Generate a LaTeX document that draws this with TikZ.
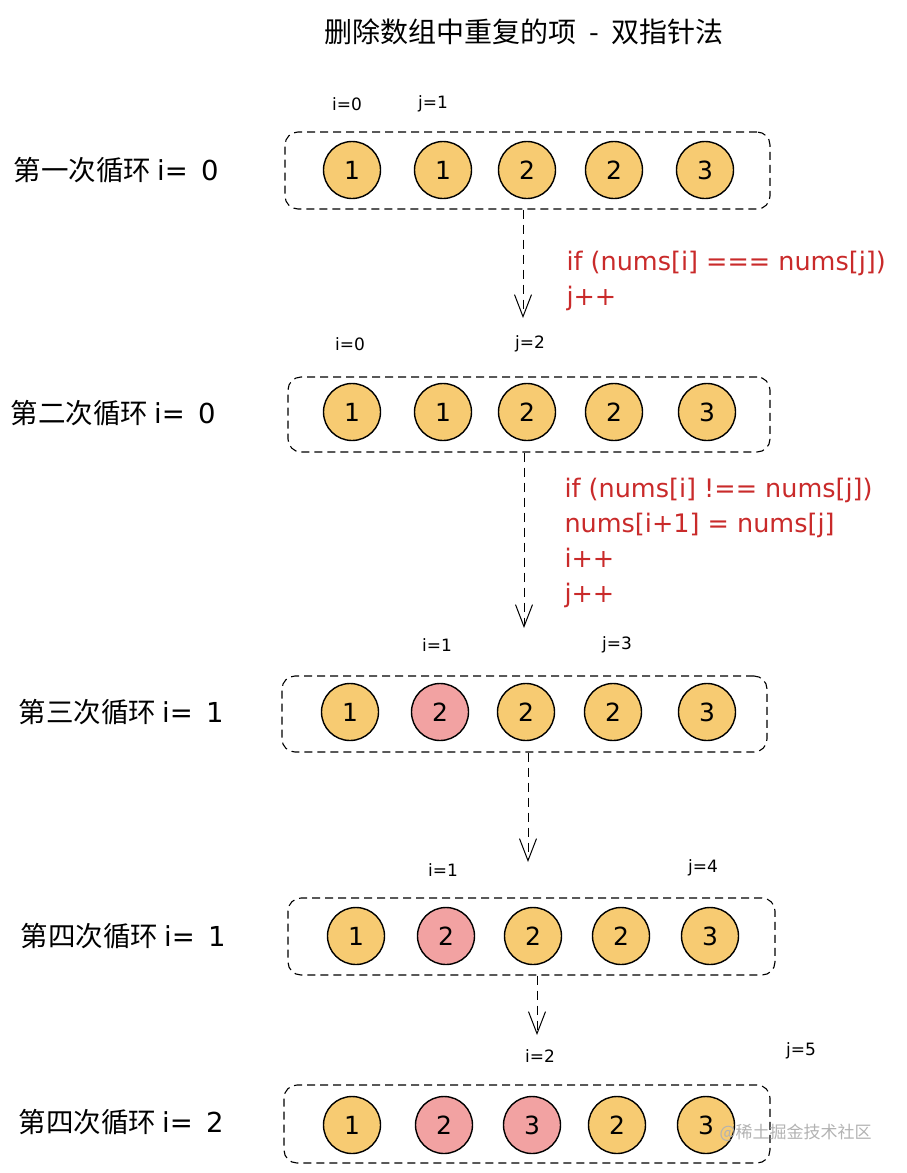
\documentclass[tikz,border=0pt]{standalone}
\usepackage{fontspec}
\setmainfont{Noto Sans CJK SC}
\newfontfamily\hand{DejaVu Sans}
\usetikzlibrary{arrows.meta}

\definecolor{cellyellow}{HTML}{F7CB72}
\definecolor{cellred}{HTML}{F2A2A2}
\definecolor{codered}{HTML}{C92A2A}

\tikzset{
  rowbox/.style={draw, dashed, dash pattern=on 8pt off 5pt, line width=1.1pt,
    rounded corners=13pt, minimum width=485pt, minimum height=77pt},
  cell/.style={circle, draw, line width=1.4pt, fill=cellyellow,
    minimum size=57pt, inner sep=0pt, font=\hand\fontsize{25}{25}\selectfont},
  hot/.style={cell, fill=cellred},
  roundlabel/.style={anchor=west, font=\fontsize{27.5}{27.5}\selectfont},
  ptr/.style={font=\hand\fontsize{17}{17}\selectfont},
  code/.style={anchor=north west, align=left, text=codered,
    font=\hand\fontsize{25.5}{35}\selectfont},
  flow/.style={dashed, dash pattern=on 9pt off 6pt, line width=1pt,
    -{Straight Barb[length=22pt,width=17pt,line width=1pt]}}
}

\begin{document}
\begin{tikzpicture}[x=1pt,y=-1pt]
  \useasboundingbox (0,0) rectangle (906,1173);

  \node[font=\fontsize{28}{28}\selectfont] (title) at (524,32) {删除数组中重复的项\ \ -\ \ 双指针法};

  % round 1
  \node[rowbox] (box1) at (527.5,170.5) {};
  \node[roundlabel] (lab1) at (10,170) {第一次循环 {\hand i=\, 0}};
  \draw
    (352,170) node[cell] (r1a){1}
    (443,170) node[cell] (r1b){1}
    (527,170) node[cell] (r1c){2}
    (614,170) node[cell] (r1d){2}
    (705,170) node[cell] (r1e){3};
  \node[ptr] (i1) at (347,104) {i=0};
  \node[ptr] (j1) at (433,104) {j=1};

  \coordinate (a1) at (523,318);
  \draw[flow] (box1.south -| a1) -- (a1);
  \node[code] (code1) at (563,248) {if (nums[i] === nums[j])\\j++};

  % round 2
  \node[rowbox, minimum width=482pt, minimum height=75pt] (box2) at (529,414.5) {};
  \node[roundlabel] (lab2) at (7,413) {第二次循环 {\hand i=\, 0}};
  \draw
    (352,412) node[cell] (r2a){1}
    (443,412) node[cell] (r2b){1}
    (527,412) node[cell] (r2c){2}
    (614,412) node[cell] (r2d){2}
    (707,412) node[cell] (r2e){3};
  \node[ptr] (i2) at (350,344) {i=0};
  \node[ptr] (j2) at (530,344) {j=2};

  \coordinate (a2) at (524,628);
  \draw[flow] (box2.south -| a2) -- (a2);
  \node[code] (code2) at (561,475) {if (nums[i] !== nums[j])\\nums[i+1] = nums[j]\\i++\\j++};

  % round 3
  \node[rowbox, minimum height=76pt] (box3) at (524.5,714) {};
  \node[roundlabel] (lab3) at (15,712) {第三次循环 {\hand i=\, 1}};
  \draw
    (350,712) node[cell] (r3a){1}
    (440,712) node[hot] (r3b){2}
    (526,712) node[cell] (r3c){2}
    (613,712) node[cell] (r3d){2}
    (707,712) node[cell] (r3e){3};
  \node[ptr] (i3) at (437,645) {i=1};
  \node[ptr] (j3) at (617,645) {j=3};

  \coordinate (a3) at (528,862);
  \draw[flow] (box3.south -| a3) -- (a3);

  % round 4
  \node[rowbox, minimum width=487pt] (box4) at (531.5,936.5) {};
  \node[roundlabel] (lab4) at (17,936) {第四次循环 {\hand i=\, 1}};
  \draw
    (356,936) node[cell] (r4a){1}
    (446,936) node[hot] (r4b){2}
    (533,936) node[cell] (r4c){2}
    (621,936) node[cell] (r4d){2}
    (710,936) node[cell] (r4e){3};
  \node[ptr] (i4) at (443,870) {i=1};
  \node[ptr] (j4) at (703,868) {j=4};

  \coordinate (a4) at (537,1035);
  \draw[flow] (box4.south -| a4) -- (a4);

  % round 5
  \node[rowbox, minimum width=486pt, minimum height=78pt] (box5) at (527,1124) {};
  \node[roundlabel] (lab5) at (15,1122) {第四次循环 {\hand i=\, 2}};
  \draw
    (352,1125) node[cell] (r5a){1}
    (444,1125) node[hot] (r5b){2}
    (532,1125) node[hot] (r5c){3}
    (617,1125) node[cell] (r5d){2}
    (706,1125) node[cell] (r5e){3};
  \node[ptr] (i5) at (540,1056) {i=2};
  \node[ptr] (j5) at (801,1051) {j=5};

  \node[text=black!30, anchor=west, font=\fontsize{17}{17}\selectfont] (mark) at (716,1133) {@稀土掘金技术社区};
\end{tikzpicture}
\end{document}
